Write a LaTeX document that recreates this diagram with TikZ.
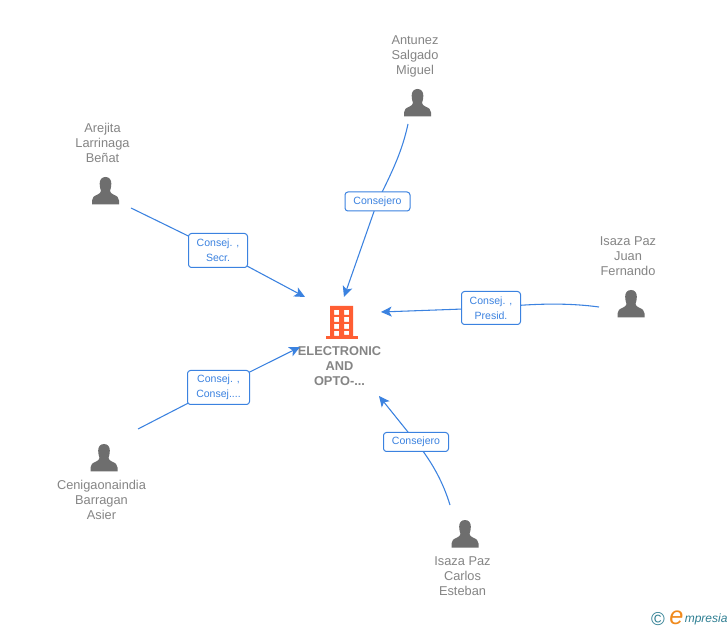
\documentclass[tikz,border=0pt]{standalone}
\usepackage{fontspec}
\setmainfont{Liberation Sans}
\usetikzlibrary{arrows.meta}
\definecolor{linkblue}{HTML}{3B82E0}
\definecolor{namegray}{HTML}{858585}
\definecolor{icongray}{HTML}{6E6E6E}
\definecolor{bldorange}{HTML}{FF5E33}
\definecolor{logoteal}{HTML}{2F7F93}
\definecolor{logoorange}{HTML}{F08A1D}
\tikzset{
  x=0.75pt,y=-0.75pt,
  namelabel/.style={align=center,text=namegray,font=\fontsize{9.6}{11.25}\selectfont,inner sep=0pt},
  rolebox/.style={draw=linkblue,fill=white,rounded corners=2.2pt,line width=0.75pt,text=linkblue,align=center,
    font=\fontsize{7.9}{11.25}\selectfont,inner sep=0pt},
  link/.style={draw=linkblue,line width=0.8pt},
  linkend/.style={link,-{Stealth[length=8pt,width=7.5pt,inset=2pt]}},
  personshape/.pic={
    \fill[icongray] (0,-14) .. controls (-4,-14) and (-5.8,-11) .. (-5.8,-7.5)
       .. controls (-5.8,-4) and (-5,-1.5) .. (-4.5,0)
       .. controls (-4.5,1.5) and (-6,2.5) .. (-8,3.6)
       .. controls (-11.5,5) and (-13.5,6.5) .. (-13.5,9.5)
       -- (-13.5,13.5) -- (13.5,13.5) -- (13.5,9.5)
       .. controls (13.5,6.5) and (11.5,5) .. (8,3.6)
       .. controls (6,2.5) and (4.5,1.5) .. (4.5,0)
       .. controls (5,-1.5) and (5.8,-4) .. (5.8,-7.5)
       .. controls (5.8,-11) and (4,-14) .. (0,-14) -- cycle;
  }
}
\begin{document}
\begin{tikzpicture}
\useasboundingbox (0,0) rectangle (728,630);
\fill[white] (0,0) rectangle (728,630);

% central company
\begin{scope}[bldorange]
  \fill[even odd rule] (330,306) rectangle (353,336)
    (334,310) rectangle (339,315) (344,310) rectangle (349,315)
    (334,317) rectangle (339,322) (344,317) rectangle (349,322)
    (334,324) rectangle (339,329) (344,324) rectangle (349,329)
    (334,331) rectangle (339,336) (344,331) rectangle (349,335);
  \fill (326,336) rectangle (358,339);
\end{scope}
\node[namelabel,font=\fontsize{9.6}{11.25}\selectfont\bfseries] (company) at (339.5,366) {ELECTRONIC\\AND\\OPTO-...};

% people
\pic at (417.5,103) {personshape};
\pic at (105.5,191) {personshape};
\pic at (631,304) {personshape};
\pic at (104,458) {personshape};
\pic at (465,534) {personshape};

\node[namelabel] (antunez) at (415,56) {Antunez\\Salgado\\Miguel};
\node[namelabel] (arejita) at (102.5,143) {Arejita\\Larrinaga\\Beñat};
\node[namelabel] (juan) at (628,256.5) {Isaza Paz\\Juan\\Fernando};
\node[namelabel] (asier) at (101.5,500) {Cenigaonaindia\\Barragan\\Asier};
\node[namelabel] (carlos) at (462.5,576.5) {Isaza Paz\\Carlos\\Esteban};

% connector ends
\coordinate (antunezEnd) at (408,124);
\coordinate (arejitaEnd) at (131,208);
\coordinate (juanEnd) at (599,307);
\coordinate (asierEnd) at (138,429);
\coordinate (carlosEnd) at (450,505);
\coordinate (toTop) at (344,297);
\coordinate (toLeftUp) at (305,297);
\coordinate (toRight) at (381,312);
\coordinate (toLeftDown) at (300,347);
\coordinate (toBottom) at (379,396);

% connectors, drawn before the boxes that sit on them
\coordinate (b1) at (377.5,201.5);
\coordinate (b2) at (218,250.5);
\coordinate (b3) at (491,308);
\coordinate (b4) at (218.5,387.5);
\coordinate (b5) at (416,442);

\draw[link] (antunezEnd) .. controls (402,152) and (392,172) .. (b1);
\draw[linkend] (b1) -- (toTop);
\draw[link] (arejitaEnd) -- (b2);
\draw[linkend] (b2) -- (toLeftUp);
\draw[link] (juanEnd) .. controls (570,303) and (535,303) .. (b3);
\draw[linkend] (b3) -- (toRight);
\draw[link] (asierEnd) -- (b4);
\draw[linkend] (b4) -- (toLeftDown);
\draw[link] (carlosEnd) .. controls (443,482) and (432,462) .. (b5);
\draw[linkend] (b5) -- (toBottom);

% role boxes
\node[rolebox,minimum width=65pt*0.75,minimum height=19pt*0.75] (r1) at (b1) {Consejero};
\node[rolebox,minimum width=59pt*0.75,minimum height=34pt*0.75] (r2) at (b2) {Consej. ,\\Secr.};
\node[rolebox,minimum width=59pt*0.75,minimum height=33pt*0.75] (r3) at (b3) {Consej. ,\\Presid.};
\node[rolebox,minimum width=62pt*0.75,minimum height=34pt*0.75] (r4) at (b4) {Consej. ,\\Consej....};
\node[rolebox,minimum width=65pt*0.75,minimum height=19pt*0.75] (r5) at (b5) {Consejero};

% logo
\node[text=logoteal,inner sep=0pt,font=\fontsize{14}{14}\selectfont] (copy) at (658,619) {©};
\node[text=logoorange,inner sep=0pt,font=\fontsize{19}{19}\selectfont\itshape] (logoe) at (676.5,618) {e};
\node[text=logoteal,inner sep=0pt,anchor=west,font=\fontsize{9}{10}\selectfont\itshape] (logo) at (684.5,619) {mpresia};
\end{tikzpicture}
\end{document}
